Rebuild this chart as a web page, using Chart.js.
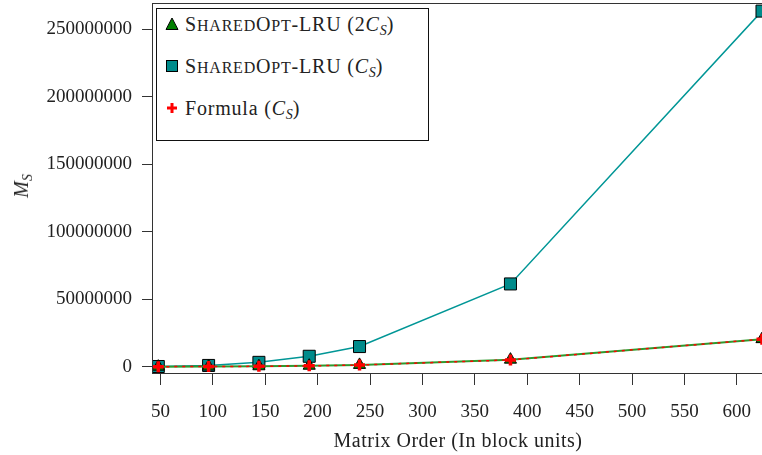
<!DOCTYPE html>
<html>
<head>
<meta charset="utf-8">
<script src="https://cdn.jsdelivr.net/npm/chart.js@4.4.1/dist/chart.umd.min.js"></script>
<style>
  html, body { margin: 0; padding: 0; background: #fff; }
  #wrap { position: relative; width: 762px; height: 455px; font-family: "Liberation Serif", serif; color: #222; overflow: hidden; }
  #chart { position: absolute; left: 0; top: 0; }
  .ytitle { position: absolute; left: 23px; top: 186px; transform: translate(-50%, -50%) rotate(-90deg); font-size: 20px; font-style: italic; white-space: nowrap; }
  .xtitle { position: absolute; left: 458px; top: 440px; transform: translate(-50%, -50%); font-size: 20px; letter-spacing: 0.5px; white-space: nowrap; }
  .ytitle sub, .legend sub { font-size: 14px; vertical-align: -4px; letter-spacing: 0; }
  .legend { position: absolute; left: 156px; top: 8px; width: 271px; height: 131px; border: 1px solid #111; background: #fff; font-size: 20px; letter-spacing: 0.8px; }
  .legend .row { position: absolute; left: 8px; height: 22px; line-height: 22px; white-space: nowrap; }
  .legend svg { position: absolute; left: 0; top: 4px; }
  .legend span.txt { position: absolute; left: 20px; top: 0; }
  .sm { font-size: 16px; }
</style>
</head>
<body>
<div id="wrap">
  <canvas id="chart" width="762" height="455"></canvas>
  <div class="ytitle">M<sub>S</sub></div>
  <div class="xtitle">Matrix Order (In block units)</div>
  <div class="legend">
    <div class="row" style="top:4px">
      <svg width="14" height="14"><polygon points="7,1 13,12.5 1,12.5" fill="#008000" stroke="#000" stroke-width="1"/></svg>
      <span class="txt">S<span class="sm">HARED</span>O<span class="sm">PT</span>-LRU (2<i>C<sub>S</sub></i>)</span>
    </div>
    <div class="row" style="top:46px">
      <svg width="14" height="14"><rect x="1.5" y="1.5" width="11" height="11" fill="#008b8b" stroke="#000" stroke-width="1"/></svg>
      <span class="txt">S<span class="sm">HARED</span>O<span class="sm">PT</span>-LRU (<i>C<sub>S</sub></i>)</span>
    </div>
    <div class="row" style="top:88px">
      <svg width="14" height="14"><path d="M7 2 V12 M2 7 H12" stroke="#ff0000" stroke-width="3"/></svg>
      <span class="txt">Formula (<i>C<sub>S</sub></i>)</span>
    </div>
  </div>
</div>
<script>
// data
const matrixOrder = [48, 96, 144, 192, 240, 384, 624];
const sharedOpt2Cs = [10000, 80000, 300000, 700000, 1300000, 5200000, 20400000];
const sharedOptCs = [120000, 900000, 3200000, 7700000, 14900000, 61300000, 263500000];
const formulaCs = [10000, 70000, 250000, 600000, 1200000, 5000000, 20300000];

const xTicks = [50, 100, 150, 200, 250, 300, 350, 400, 450, 500, 550, 600];
const yTicks = [0, 50000000, 100000000, 150000000, 200000000, 250000000];

const toPoints = (ys) => matrixOrder.map((x, i) => ({ x: x, y: ys[i] }));

// box round the plot area
const frame = {
  id: "frame",
  afterDraw(chart) {
    const a = chart.chartArea;
    const ctx = chart.ctx;
    ctx.save();
    ctx.strokeStyle = "#333";
    ctx.lineWidth = 1;
    ctx.strokeRect(a.left + 0.5, a.top + 0.5, a.right - a.left, a.bottom - a.top);
    ctx.restore();
  },
};

const tickFont = { family: "Liberation Serif", size: 19 };

new Chart(document.getElementById("chart"), {
  type: "line",
  data: {
    datasets: [
      {
        label: "Formula (C_S)",
        data: toPoints(formulaCs),
        borderColor: "#ff0000",
        borderWidth: 1.5,
        borderDash: [3, 5],
        pointStyle: "cross",
        pointRadius: 5.5,
        pointBorderWidth: 3.5,
        pointBorderColor: "#ff0000",
        order: 1,
      },
      {
        label: "SharedOpt-LRU (2C_S)",
        data: toPoints(sharedOpt2Cs),
        borderColor: "#2e9a2e",
        borderWidth: 2,
        pointStyle: "triangle",
        pointRadius: 7,
        pointBackgroundColor: "#008000",
        pointBorderColor: "#000",
        pointBorderWidth: 1,
        order: 2,
      },
      {
        label: "SharedOpt-LRU (C_S)",
        data: toPoints(sharedOptCs),
        borderColor: "#009696",
        borderWidth: 1.5,
        pointStyle: "rect",
        pointRadius: 8.5,
        pointBackgroundColor: "#008b8b",
        pointBorderColor: "#000",
        pointBorderWidth: 1,
        order: 3,
      },
    ],
  },
  options: {
    responsive: false,
    animation: false,
    layout: { autoPadding: false, padding: { top: 3, right: 0, left: 0, bottom: 0 } },
    plugins: { legend: { display: false }, tooltip: { enabled: false } },
    scales: {
      x: {
        type: "linear",
        min: 42,
        max: 624,
        afterFit: (s) => {
          s.height = 82;
          s.paddingLeft = 0;
          s.paddingRight = 0;
        },
        afterBuildTicks: (s) => { s.ticks = xTicks.map((v) => ({ value: v })); },
        ticks: { font: tickFont, color: "#222", padding: 16, maxRotation: 0, autoSkip: false },
        grid: { drawOnChartArea: false, tickLength: 12, color: "#333" },
        border: { color: "#333" },
      },
      y: {
        min: -4700000,
        max: 269500000,
        afterFit: (s) => {
          s.width = 152;
          s.paddingTop = 0;
          s.paddingBottom = 0;
        },
        afterBuildTicks: (s) => { s.ticks = yTicks.map((v) => ({ value: v })); },
        ticks: { font: tickFont, color: "#222", padding: 10, callback: (v) => String(v) },
        grid: { drawOnChartArea: false, tickLength: 10, color: "#333" },
        border: { color: "#333" },
      },
    },
  },
  plugins: [frame],
});
</script>
</body>
</html>
